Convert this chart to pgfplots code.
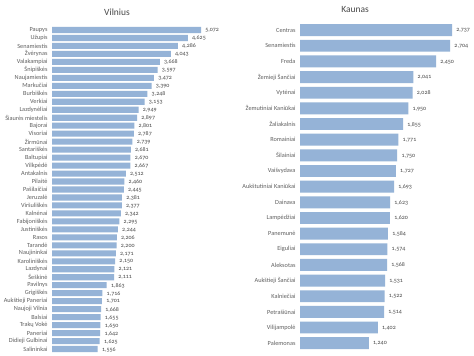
\documentclass[border=0pt]{standalone}
\usepackage{fontspec}
\setmainfont{Carlito}[Numbers=OldStyle]
\usepackage{pgfplots}
\usepackage{pgfplotstable}
\pgfplotsset{compat=1.18}
\definecolor{barblue}{RGB}{149,179,215}
\definecolor{labgray}{RGB}{96,96,96}
\definecolor{titgray}{RGB}{72,72,72}

\pgfplotstableread[col sep=comma]{
idx,val,name
0,5072,Paupys
1,4625,Užupis
2,4286,Senamiestis
3,4043,Žvėrynas
4,3668,Valakampiai
5,3597,Šnipiškės
6,3472,Naujamiestis
7,3390,Markučiai
8,3248,Burbiškės
9,3153,Verkiai
10,2949,Lazdynėliai
11,2897,Šiaurės miestelis
12,2801,Bajorai
13,2787,Visoriai
14,2739,Žirmūnai
15,2681,Santariškės
16,2670,Baltupiai
17,2667,Vilkpėdė
18,2512,Antakalnis
19,2460,Pilaitė
20,2445,Pašilaičiai
21,2381,Jeruzalė
22,2377,Viršuliškės
23,2342,Kalnėnai
24,2295,Fabijoniškės
25,2244,Justiniškės
26,2206,Rasos
27,2200,Tarandė
28,2171,Naujininkai
29,2150,Karoliniškės
30,2121,Lazdynai
31,2111,Šeškinė
32,1863,Pavilnys
33,1716,Grigiškės
34,1701,Aukštieji Paneriai
35,1668,Naujoji Vilnia
36,1655,Balsiai
37,1650,Trakų Vokė
38,1642,Paneriai
39,1625,Didieji Gulbinai
40,1556,Salininkai
}\vilnius

\pgfplotstableread[col sep=comma]{
idx,val,name
0,2737,Centras
1,2704,Senamiestis
2,2450,Freda
3,2041,Žemieji Šančiai
4,2028,Vytėnai
5,1950,Žemutiniai Kaniūkai
6,1855,Žaliakalnis
7,1771,Romainiai
8,1750,Šilainiai
9,1727,Vaišvydava
10,1693,Aukštutiniai Kaniūkai
11,1623,Dainava
12,1620,Lampėdžiai
13,1584,Panemunė
14,1574,Eiguliai
15,1568,Aleksotas
16,1531,Aukštieji Šančiai
17,1522,Kalniečiai
18,1514,Petrašiūnai
19,1402,Vilijampolė
20,1240,Palemonas
}\kaunas

\pgfplotsset{
  mybars/.style={
    scale only axis,
    anchor=south west,
    xmin=0, ymin=-0.5,
    y dir=reverse,
    xbar, bar width=0.76,
    axis line style={draw=none},
    major tick length=0,
    xtick=\empty,
    ytick=data,
    enlargelimits=false,
    clip=false,
    yticklabel style={font=\fontsize{6.3}{7}\selectfont, text=labgray, xshift=-1pt},
    point meta=x,
    nodes near coords={\pgfmathprintnumber[fixed, precision=0, 1000 sep={,}, assume math mode=true]{\pgfplotspointmeta}},
    nodes near coords style={font=\fontsize{6}{7}\selectfont, text=titgray, anchor=west, xshift=0.8pt, yshift=-0.5pt},
  }
}

\begin{document}
\begin{tikzpicture}
\useasboundingbox (0,0) rectangle (474bp,356bp);
\fill[white] (0,0) rectangle (474bp,356bp);
\begin{axis}[mybars,
  at={(52bp,3bp)}, width=149bp, height=327bp,
  xmax=5072, ymax=40.5,
  yticklabels from table={\vilnius}{name}]
\addplot[fill=barblue, draw=none] table[x=val, y=idx] {\vilnius};
\end{axis}
\begin{axis}[mybars,
  at={(300bp,5bp)}, width=152bp, height=328.7bp,
  xmax=2737, ymax=20.5,
  yticklabels from table={\kaunas}{name}]
\addplot[fill=barblue, draw=none] table[x=val, y=idx] {\kaunas};
\end{axis}
\node[text=titgray, font=\fontsize{9.5}{11}\selectfont] at (117bp,344bp) {Vilnius};
\node[text=titgray, font=\fontsize{9.5}{11}\selectfont] at (355bp,346bp) {Kaunas};
\end{tikzpicture}
\end{document}
